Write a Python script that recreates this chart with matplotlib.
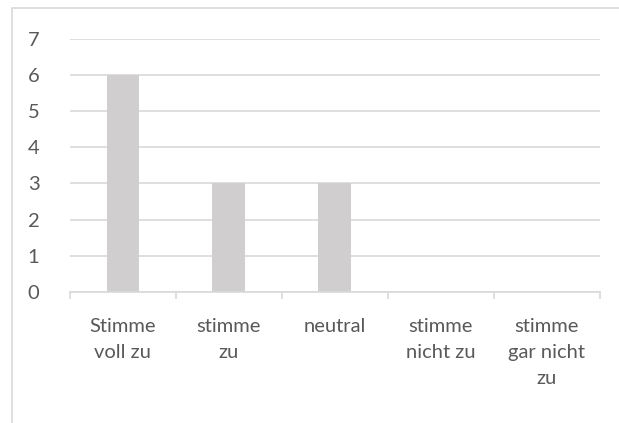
import matplotlib.pyplot as plt
from matplotlib.patches import Rectangle

categories = ["Stimme\nvoll zu", "stimme\nzu", "neutral", "stimme\nnicht zu", "stimme\ngar nicht\nzu"]
values = [6, 3, 3, 0, 0]

plt.rcParams['font.family'] = ['Lato', 'DejaVu Sans']

fig = plt.figure(figsize=(6.19, 4.23), dpi=100)
ax = fig.add_axes([0.113, 0.310, 0.856, 0.598])

# chart frame like in Excel
fig.patches.append(Rectangle((12 / 619, -0.1), 1.0, 1 - 8 / 423 + 0.1,
                             transform=fig.transFigure, fill=False,
                             edgecolor='#D9D9D9', linewidth=1.2))

x = range(len(categories))
ax.bar(x, values, width=0.31, color='#D0CECE', zorder=2)

ax.set_xlim(-0.5, len(categories) - 0.5)
ax.set_ylim(0, 7)
ax.set_yticks(range(0, 8))
ax.grid(axis='y', color='#D9D9D9', linewidth=1.2, zorder=0)

for s in ['top', 'right', 'left']:
    ax.spines[s].set_visible(False)
ax.spines['bottom'].set_color('#D9D9D9')
ax.spines['bottom'].set_linewidth(1.2)

ax.set_xticks(list(x))
ax.set_xticklabels(categories, linespacing=1.65, color='#595959', fontsize=14.5)
ax.set_xticks([i - 0.5 for i in range(len(categories) + 1)], minor=True)
ax.tick_params(axis='x', which='major', length=0, pad=19)
ax.tick_params(axis='x', which='minor', length=5, color='#D9D9D9', width=1.2)
ax.tick_params(axis='y', length=0, pad=22, labelcolor='#595959', labelsize=14.5)

fig.savefig("out.png", dpi=100)
